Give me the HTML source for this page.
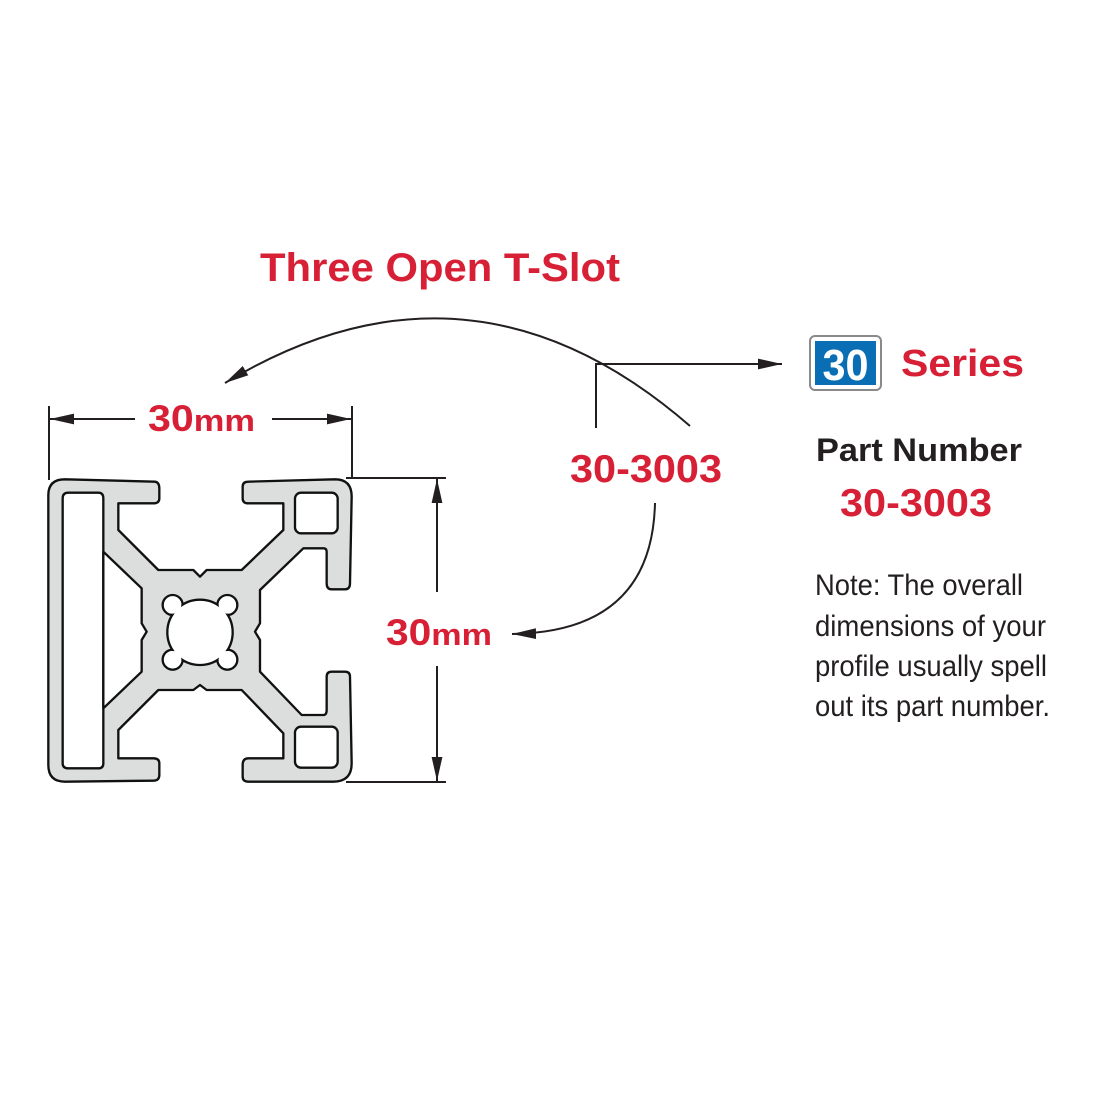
<!DOCTYPE html>
<html><head><meta charset="utf-8"><style>
html,body{margin:0;padding:0;background:#fff;width:1100px;height:1100px;overflow:hidden}
svg{display:block}
</style></head><body>
<svg width="1100" height="1100" viewBox="0 0 1100 1100" xmlns="http://www.w3.org/2000/svg">
<defs>
<marker id="ah2" viewBox="0 0 20 10" refX="20" refY="5" markerWidth="24" markerHeight="12" markerUnits="userSpaceOnUse" orient="auto">
<path d="M0,0.5 L20,5 L0,9.5 Z" fill="#231f20"/></marker>
</defs>

<!-- profile -->
<g transform="translate(40,470) scale(0.33333)" stroke="#111" stroke-width="7" stroke-linejoin="round">
<path fill="#dcdddd" d="M25,75 Q25,28 75,28 L345,35 Q358,37 358,55 L358,85 Q358,100 340,100 L235,100 L235,180 L355,300 L460,300 L480,320 L500,300 L605,300 L730,180 L730,100 L625,100 Q608,100 608,85 L608,50 Q608,35 625,35 L885,28 Q935,28 935,80 L930,340 Q930,358 915,358 L875,358 Q860,358 860,340 L860,245 Q860,235 850,235 L790,235 L660,360 L660,460 L645,485 L660,510 L660,605 L785,735 L850,735 Q860,735 860,720 L860,620 Q860,605 875,605 L915,605 Q930,605 930,620 L935,880 Q935,935 880,935 L625,935 Q608,935 608,920 L608,885 Q608,865 625,865 L730,865 L730,790 L605,660 L500,660 L480,645 L460,660 L355,660 L235,780 L235,865 L340,865 Q358,865 358,880 L358,915 Q358,932 340,932 L75,935 Q25,935 25,885 Z"/>
<path fill="#fff" d="M68,85 Q68,68 85,68 L175,68 Q190,68 190,85 L190,880 Q190,895 175,895 L85,895 Q68,895 68,880 Z"/>
<path fill="#fff" d="M190,245 L305,355 L305,460 L320,485 L305,510 L305,605 L190,715 Z"/>
<rect x="765" y="68" width="128" height="122" rx="18" fill="#fff"/>
<rect x="765" y="770" width="128" height="123" rx="18" fill="#fff"/>
<circle cx="398" cy="405" r="30" fill="#fff"/>
<circle cx="562" cy="405" r="30" fill="#fff"/>
<circle cx="398" cy="569" r="30" fill="#fff"/>
<circle cx="562" cy="569" r="30" fill="#fff"/>
<circle cx="480" cy="487" r="98" fill="#fff"/>
<g stroke="none" fill="#fff">
<circle cx="398" cy="405" r="26"/><circle cx="562" cy="405" r="26"/>
<circle cx="398" cy="569" r="26"/><circle cx="562" cy="569" r="26"/>
<circle cx="480" cy="487" r="94"/>
</g>
</g>

<g stroke="#231f20" stroke-width="2" fill="none">
<line x1="49" y1="406" x2="49" y2="480"/>
<line x1="352" y1="406" x2="352" y2="478"/>
<line x1="135" y1="419" x2="50" y2="419" marker-end="url(#ah2)"/>
<line x1="272" y1="419" x2="351" y2="419" marker-end="url(#ah2)"/>
<line x1="346" y1="478" x2="446" y2="478"/>
<line x1="346" y1="782" x2="446" y2="782"/>
<line x1="437" y1="592" x2="437" y2="479" marker-end="url(#ah2)"/>
<line x1="437" y1="666" x2="437" y2="781" marker-end="url(#ah2)"/>
<path d="M690,426 Q470,235 225,383" marker-end="url(#ah2)"/>
<path d="M596,428 L596,364 L782,364" marker-end="url(#ah2)"/>
<path d="M655,503 Q652,632 512,634" marker-end="url(#ah2)"/>
</g>

<g font-family="'Liberation Sans',Arial,sans-serif" font-weight="bold" fill="#d71f35">
<text x="260" y="281" font-size="40" textLength="360" lengthAdjust="spacingAndGlyphs">Three Open T-Slot</text>
<text x="148" y="431" font-size="37" textLength="107" lengthAdjust="spacingAndGlyphs">30<tspan font-size="31">mm</tspan></text>
<text x="386" y="645" font-size="37" textLength="106" lengthAdjust="spacingAndGlyphs">30<tspan font-size="31">mm</tspan></text>
<text x="570" y="482" font-size="39" textLength="152" lengthAdjust="spacingAndGlyphs">30-3003</text>
<text x="901" y="376" font-size="38" textLength="123" lengthAdjust="spacingAndGlyphs">Series</text>
<text x="840" y="516" font-size="39" textLength="152" lengthAdjust="spacingAndGlyphs">30-3003</text>
</g>

<rect x="810" y="336" width="71" height="54" rx="5" fill="#fff" stroke="#8a8a8a" stroke-width="2"/>
<rect x="815" y="341" width="61" height="44" fill="#0a6eb4"/>
<text x="845.5" y="380" text-anchor="middle" font-family="'Liberation Sans',Arial,sans-serif" font-weight="bold" font-size="44" fill="#fff" textLength="46" lengthAdjust="spacingAndGlyphs">30</text>

<text x="816" y="461" font-family="'Liberation Sans',Arial,sans-serif" font-weight="bold" font-size="32" fill="#231f20" textLength="206" lengthAdjust="spacingAndGlyphs">Part Number</text>

<g font-family="'Liberation Sans',Arial,sans-serif" font-size="30" fill="#231f20">
<text x="815" y="595" textLength="208" lengthAdjust="spacingAndGlyphs">Note: The overall</text>
<text x="815" y="636" textLength="231" lengthAdjust="spacingAndGlyphs">dimensions of your</text>
<text x="815" y="676" textLength="232" lengthAdjust="spacingAndGlyphs">profile usually spell</text>
<text x="815" y="716" textLength="235" lengthAdjust="spacingAndGlyphs">out its part number.</text>
</g>
</svg>
</body></html>
